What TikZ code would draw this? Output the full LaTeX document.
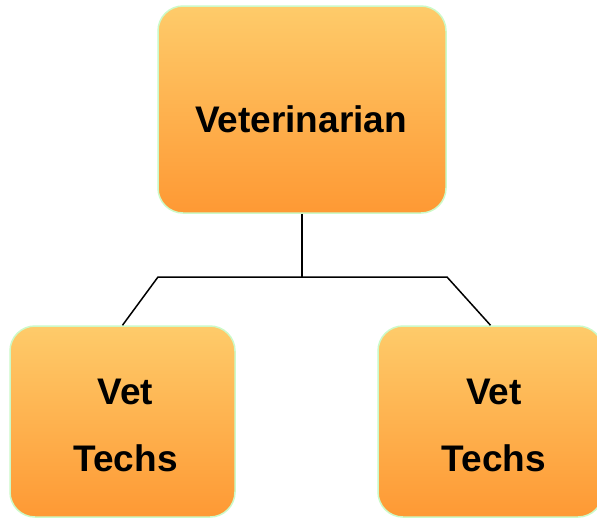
\documentclass[tikz,border=0pt]{standalone}
\usepackage{fontspec}
\setmainfont{Liberation Sans}
\definecolor{boxtop}{RGB}{254,203,106}
\definecolor{boxbottom}{RGB}{254,153,52}
\definecolor{boxedge}{RGB}{204,250,200}
\begin{document}
\begin{tikzpicture}[x=1pt,y=-1pt,
  orgbox/.style={draw=boxedge, line width=1.5pt, rounded corners=25pt,
    top color=boxtop, bottom color=boxbottom, inner sep=0pt},
  boxtext/.style={anchor=base, inner sep=0pt, font=\fontsize{37}{40}\selectfont\bfseries},
  link/.style={draw=black, line width=1.5pt}]
\clip (0,0) rectangle (597,520);
\fill[white] (0,0) rectangle (597,520);
% boxes
\node[orgbox, minimum width=288pt, minimum height=207pt] (vet) at (302,109.5) {};
\node[orgbox, minimum width=225pt, minimum height=191pt] (techsL) at (122.5,421.5) {};
\node[orgbox, minimum width=225pt, minimum height=191pt] (techsR) at (490.5,421.5) {};
% labels
\node[boxtext] (vetlabel) at (301,132) {Veterinarian};
\node[boxtext] (vetL) at (125.5,404) {Vet};
\node[boxtext] (techL) at (125.5,471) {Techs};
\node[boxtext] (vetR) at (494,404) {Vet};
\node[boxtext] (techR) at (494,471) {Techs};
% connectors
\coordinate (jl) at (158,277);
\coordinate (jr) at (447,277);
\draw[link] (vet.south) -- (vet.south |- jl);
\draw[link] (techsL.north) -- (jl) -- (jr) -- (techsR.north);
\end{tikzpicture}
\end{document}
